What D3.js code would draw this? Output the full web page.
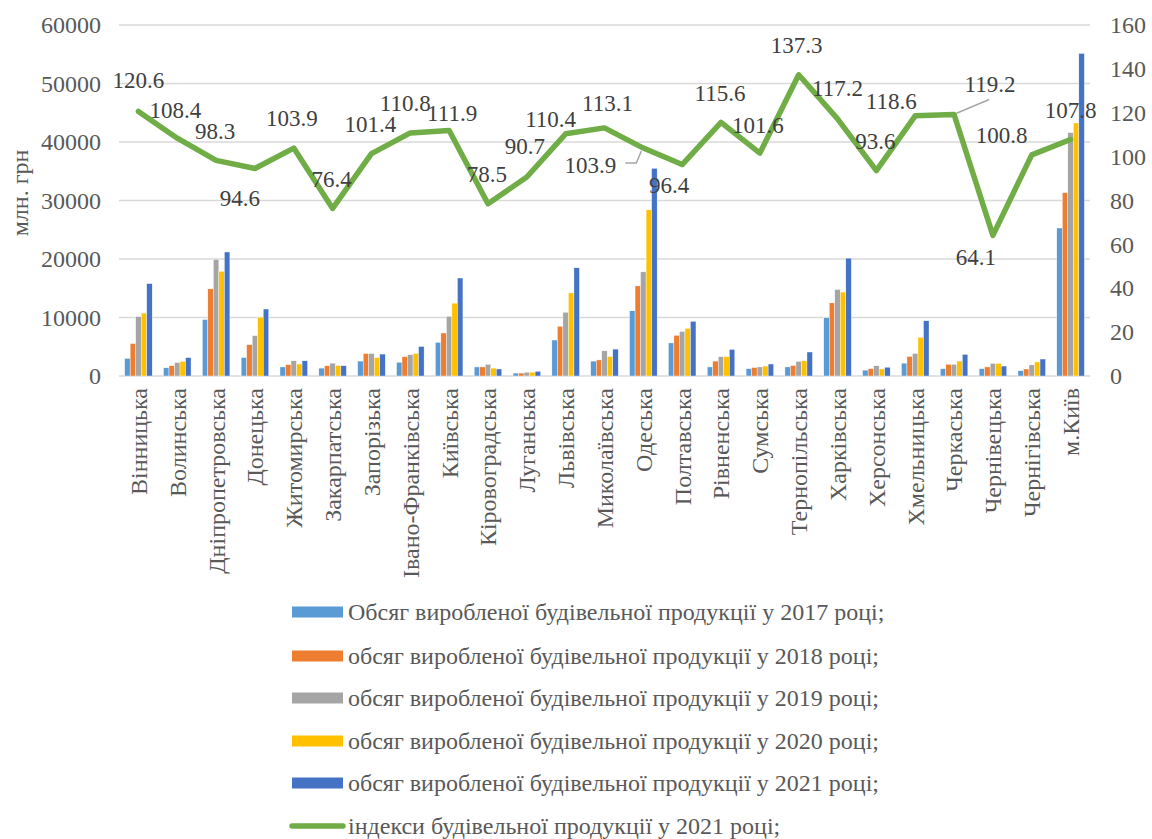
<!DOCTYPE html>
<html><head><meta charset="utf-8">
<script src="https://cdn.jsdelivr.net/npm/d3@7"></script>
<style>
html,body{margin:0;padding:0;background:#fff;}
svg text{font-family:"Liberation Serif","Tinos","Times New Roman","DejaVu Serif","Noto Serif",serif !important;}
</style></head>
<body>
<svg id="chart" width="1152" height="839"></svg>
<script>
const categories = ["Вінницька","Волинська","Дніпропетровська","Донецька","Житомирська","Закарпатська","Запорізька","Івано-Франківська","Київська","Кіровоградська","Луганська","Львівська","Миколаївська","Одеська","Полтавська","Рівненська","Сумська","Тернопільська","Харківська","Херсонська","Хмельницька","Черкаська","Чернівецька","Чернігівська","м.Київ"];
const v2017 = [3000,1400,9650,3150,1550,1350,2550,2350,5750,1550,500,6150,2550,11150,5650,1550,1250,1550,9950,1000,2200,1250,1250,900,25300];
const v2018 = [5550,1750,14900,5350,1950,1750,3850,3300,7350,1550,500,8500,2750,15400,6950,2550,1450,1800,12500,1250,3350,2000,1550,1200,31350];
const v2019 = [10150,2300,19950,6900,2600,2200,3850,3650,10200,2000,650,10900,4300,17800,7600,3300,1550,2500,14800,1750,3850,2000,2150,1900,41600];
const v2020 = [10750,2500,17900,10050,2050,1800,3150,3850,12450,1350,650,14200,3300,28400,8150,3300,1700,2600,14350,1200,6600,2550,2150,2400,43250];
const v2021 = [15800,3150,21200,11450,2600,1750,3750,5050,16750,1200,800,18500,4600,35500,9350,4550,2050,4100,20150,1500,9450,3700,1700,2900,55150];
const index2021 = [120.6,108.4,98.3,94.6,103.9,76.4,101.4,110.8,111.9,78.5,90.7,110.4,113.1,103.9,96.4,115.6,101.6,137.3,117.2,93.6,118.6,119.2,64.1,100.8,107.8];
const leftTicks = [0,10000,20000,30000,40000,50000,60000];
const rightTicks = [0,20,40,60,80,100,120,140,160];
const seriesNames = ["Обсяг виробленої будівельної продукції у 2017 році;","обсяг виробленої будівельної продукції у 2018 році;","обсяг виробленої будівельної продукції у 2019 році;","обсяг виробленої будівельної продукції у 2020 році;","обсяг виробленої будівельної продукції у 2021 році;"];
const lineName = "індекси будівельної продукції у 2021 році;";
const yTitle = "млн. грн";

// layout (label offsets relative to data point, in px)
const labelOffsets = [[0,-31],[-2,-28],[-1,-29],[-15,29],[-2,-30],[-1,-29],[-1,-30],[-5,-30],[3,-18],[-1,-30],[-2,-31],[-15,-15],[3,-25],[-53,17],[-13,20],[-1,-29],[-2,-28],[-2,-30],[0,-31],[-1,-30],[-24,-15],[36,-31],[-17,22],[-30,-20],[0,-30]];
const leaders = {13: [[-18,15],[-7,15],[-2,3]], 21: [[2,-1],[35,-15]]};
const colors = ["#5B9BD5","#ED7D31","#A5A5A5","#FFC000","#4472C4"];
const lineColor = "#70AD47";
const FONT = '"Liberation Serif","Tinos","Times New Roman","DejaVu Serif","Noto Serif",serif';

const series = [v2017,v2018,v2019,v2020,v2021];
const svg = d3.select("#chart");
const plotL = 119, plotR = 1090, plotT = 25, plotB = 376;

const x = d3.scaleBand().domain(categories).range([plotL, plotR]).padding(0);
const groupW = x.bandwidth()*0.71;
const x1 = d3.scaleBand().domain(d3.range(5)).range([0, groupW]).padding(0);
const yL = d3.scaleLinear().domain([0,60000]).range([plotB, plotT]);
const yR = d3.scaleLinear().domain([0,160]).range([plotB, plotT]);

// gridlines
svg.append("g").selectAll("line").data(leftTicks).join("line")
  .attr("x1", plotL).attr("x2", plotR)
  .attr("y1", d=>yL(d)).attr("y2", d=>yL(d))
  .attr("stroke", "#D9D9D9").attr("stroke-width", 1.5);

// left axis
const axL = svg.append("g").attr("transform", `translate(${plotL},0)`)
  .call(d3.axisLeft(yL).tickValues(leftTicks).tickSize(0).tickPadding(18).tickFormat(d3.format("d")));
axL.select(".domain").remove();
axL.attr("font-family", FONT);
axL.selectAll("text").attr("font-size", 24).attr("fill", "#595959").attr("font-family", FONT);

// right axis
const axR = svg.append("g").attr("transform", `translate(${plotR},0)`)
  .call(d3.axisRight(yR).tickValues(rightTicks).tickSize(0).tickPadding(20));
axR.select(".domain").remove();
axR.attr("font-family", FONT);
axR.selectAll("text").attr("font-size", 24).attr("fill", "#595959").attr("font-family", FONT);

// bars
const gBars = svg.append("g");
series.forEach((vals, si) => {
  gBars.append("g").selectAll("rect").data(vals).join("rect")
    .attr("x", (d,i)=> x(categories[i]) + (x.bandwidth()-groupW)/2 + x1(si))
    .attr("width", x1.bandwidth())
    .attr("y", d=>yL(d))
    .attr("height", d=> plotB - yL(d))
    .attr("fill", colors[si])
    .attr("stroke", "#ffffff").attr("stroke-width", 0.4);
});

// category labels
svg.append("g").selectAll("text").data(categories).join("text")
  .attr("transform", d=>`translate(${x(d)+x.bandwidth()/2},388) rotate(-90)`)
  .attr("text-anchor", "end").attr("dy", "0.35em")
  .attr("font-size", 24).attr("fill", "#595959").attr("font-family", FONT)
  .text(d=>d);

// y title
svg.append("text").attr("transform", "translate(20,193) rotate(-90)")
  .attr("text-anchor", "middle").attr("dy", "0.35em").attr("font-family", FONT)
  .attr("font-size", 24).attr("fill", "#595959").text(yTitle);

// line
const pts = index2021.map((v,i)=>[x(categories[i])+x.bandwidth()/2, yR(v)]);
svg.append("path").datum(index2021)
  .attr("d", d3.line().x((d,i)=>x(categories[i])+x.bandwidth()/2).y(d=>yR(d)))
  .attr("fill","none").attr("stroke", lineColor).attr("stroke-width", 5.5)
  .attr("stroke-linejoin","round").attr("stroke-linecap","round");

// leader lines
Object.keys(leaders).forEach(k=>{
  const p = pts[k];
  svg.append("path")
    .attr("d", d3.line()(leaders[k].map(o=>[p[0]+o[0], p[1]+o[1]])))
    .attr("fill","none").attr("stroke","#A6A6A6").attr("stroke-width",1.5);
});

// data labels
svg.append("g").selectAll("text").data(index2021).join("text")
  .attr("x", (d,i)=>pts[i][0]+labelOffsets[i][0])
  .attr("y", (d,i)=>pts[i][1]+labelOffsets[i][1])
  .attr("text-anchor","middle").attr("dy","0.35em").attr("font-family", FONT)
  .attr("font-size", 23).attr("fill", "#404040")
  .text(d=>d3.format(".1f")(d));

// legend
const legY = [612,656,698,741,783];
const leg = svg.append("g");
seriesNames.forEach((name, i)=>{
  leg.append("rect").attr("x", 292).attr("y", legY[i]-5.5).attr("width", 51).attr("height", 11).attr("fill", colors[i]);
  leg.append("text").attr("x", 348).attr("y", legY[i]).attr("dy","0.35em").attr("font-family", FONT)
    .attr("font-size", 24).attr("fill", "#595959").text(name);
});
leg.append("line").attr("x1", 292).attr("x2", 343).attr("y1", 826).attr("y2", 826)
  .attr("stroke", lineColor).attr("stroke-width", 5.5).attr("stroke-linecap","round");
leg.append("text").attr("x", 348).attr("y", 826).attr("dy","0.35em").attr("font-family", FONT)
  .attr("font-size", 24).attr("fill", "#595959").text(lineName);
</script>
</body></html>
